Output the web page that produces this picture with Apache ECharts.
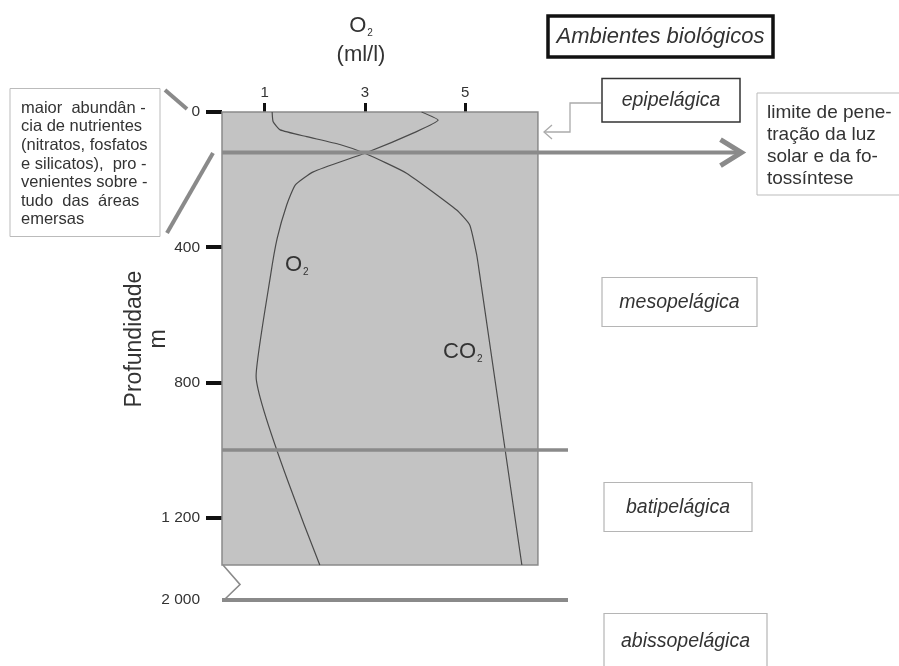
<!DOCTYPE html>
<html><head><meta charset="utf-8">
<script src="https://cdn.jsdelivr.net/npm/echarts@6/dist/echarts.min.js"></script>
<style>html,body{margin:0;padding:0;background:#fff}#c{width:899px;height:666px}</style>
</head><body><div id="c"></div>
<script>
// ---------------- data ----------------
const gasTicks = [1, 3, 5];
const depthTicks = [0, 400, 800, 1200, 2000];
const depthTickLabels = ['0', '400', '800', '1 200', '2 000'];
const depthTickMarks = [0, 400, 800, 1200];

const o2Depth = [0, 24, 58, 122, 177, 216, 275, 374, 482, 781, 1340];
const o2Value = [4.13, 4.46, 4.03, 3.00, 1.97, 1.61, 1.44, 1.25, 1.12, 0.83, 2.10];

const co2Depth = [0, 29, 53, 73, 96, 122, 181, 290, 334, 423, 482, 1340];
const co2Value = [1.15, 1.17, 1.31, 1.84, 2.50, 3.00, 3.83, 4.83, 5.09, 5.23, 5.29, 6.13];

const limiteLuz = 120;       // limite de penetração da luz
const limiteMeso = 1000;     // meso / batipelágica
const limiteBati = 2000;     // bati / abissopelágica
const fimPerfil = 1340;      // fim do perfil medido

// ---------------- layout ----------------
const X_MIN = 0.15, X_BOX_MAX = 6.45, X_LINE_END = 7.05, X_ARROW_END = 10.45, X_GRID_MAX = 10.5;
const FONT = 'Liberation Sans, Arial, sans-serif';

const chart = echarts.init(document.getElementById('c'), null, {renderer: 'canvas'});

const pair = (xs, ys) => xs.map((v, i) => [v, ys[i]]);
const subRich = (size) => ({
  o: {fontSize: size, color: '#333', fontFamily: FONT, lineHeight: 26},
  s: {fontSize: 10, color: '#333', fontFamily: FONT, lineHeight: 10, padding: [14, 0, 0, 1]},
  u: {fontSize: size, color: '#333', fontFamily: FONT, lineHeight: 32}
});

const option = {
  animation: false,
  backgroundColor: '#ffffff',
  textStyle: {fontFamily: FONT},
  grid: {left: 222, right: 158, top: 112, bottom: 66, outerBoundsMode: 'none'},
  xAxis: {
    type: 'value', position: 'top', min: X_MIN, max: X_GRID_MAX,
    axisLine: {show: false},
    splitLine: {show: false},
    axisTick: {show: true, customValues: gasTicks, length: 9, lineStyle: {color: '#111', width: 3}},
    axisLabel: {customValues: gasTicks, fontSize: 15, color: '#333', margin: 12, fontFamily: FONT},
    name: '{o|O}{s|2}\n{u|(ml/l)}',
    nameLocation: 'middle', nameGap: 41,
    nameTextStyle: {padding: [0, 241, 0, 0], rich: subRich(22)}
  },
  yAxis: {
    type: 'value', inverse: true, min: 0, max: 2000,
    breaks: [{start: fimPerfil, end: 1990, gap: 93.5}],
    breakArea: {show: false, expandOnClick: false},
    axisLine: {show: false},
    splitLine: {show: false},
    axisTick: {show: true, customValues: depthTickMarks, length: 16, lineStyle: {color: '#111', width: 4}},
    axisLabel: {
      customValues: depthTicks, fontSize: 15.5, color: '#333', margin: 22, fontFamily: FONT,
      formatter: v => { const i = depthTicks.indexOf(v); return i >= 0 ? depthTickLabels[i] : ''; }
    },
    name: 'Profundidade\nm', nameLocation: 'middle', nameRotate: 90, nameGap: 51, nameMoveOverlap: false,
    nameTextStyle: {fontSize: 23, color: '#333', lineHeight: 24, fontFamily: FONT, padding: [0, 0, 0, 34]}
  },
  series: [
    {
      type: 'line', name: 'box', data: [], z: 1, silent: true,
      markArea: {
        silent: true,
        itemStyle: {color: '#c3c3c3', borderColor: '#8a8a8a', borderWidth: 1.5},
        data: [[{xAxis: X_MIN, yAxis: 0}, {xAxis: X_BOX_MAX, yAxis: fimPerfil}]]
      }
    },
    {
      type: 'line', name: 'O2', data: pair(o2Value, o2Depth), symbol: 'none', smooth: 0.15, z: 3,
      lineStyle: {color: '#4a4a4a', width: 1.2}, silent: true
    },
    {
      type: 'line', name: 'CO2', data: pair(co2Value, co2Depth), symbol: 'none', smooth: 0.15, z: 3,
      lineStyle: {color: '#4a4a4a', width: 1.2}, silent: true
    },
    {
      type: 'line', data: [[X_MIN, limiteLuz], [X_ARROW_END, limiteLuz]], symbol: 'none', z: 4,
      lineStyle: {color: '#8a8a8a', width: 4}, silent: true
    },
    {
      type: 'line', data: [[X_MIN, limiteMeso], [X_LINE_END, limiteMeso]], symbol: 'none', z: 4,
      lineStyle: {color: '#8a8a8a', width: 3.5}, silent: true
    },
    {
      type: 'line', data: [[X_MIN, limiteBati], [X_LINE_END, limiteBati]], symbol: 'none', z: 4,
      lineStyle: {color: '#8a8a8a', width: 4}, silent: true
    }
  ]
};
chart.setOption(option);

// ---------------- annotations ----------------
const px = (x, y) => chart.convertToPixel({gridIndex: 0}, [x, y]);
const arrowEnd = px(X_ARROW_END, limiteLuz);
const zzTop = px(X_MIN, fimPerfil);
const zzBot = px(X_MIN, limiteBati);

function box(x, y, w, h, stroke, lw) {
  return {type: 'rect', shape: {x, y, width: w, height: h}, style: {fill: '#fff', stroke, lineWidth: lw}, silent: true, z: 10};
}
function txt(x, y, text, extra) {
  return Object.assign({type: 'text', x, y, silent: true, z: 11,
    style: Object.assign({text, fill: '#333', font: '19.5px ' + FONT}, extra || {})});
}
const richSub = {
  o: {font: '22px ' + FONT, fill: '#333', lineHeight: 26},
  s: {font: '10px ' + FONT, fill: '#333', lineHeight: 10, padding: [14, 0, 0, 1]}
};
const gEls = [
  // title box
  box(548, 16, 225, 41, '#111', 3.5),
  txt(660.5, 37, 'Ambientes biológicos', {font: 'italic 22px ' + FONT, align: 'center', verticalAlign: 'middle'}),
  // epipelágica
  box(602, 78.5, 138, 43.5, '#333', 1.5),
  txt(671, 101, 'epipelágica', {font: 'italic 19.5px ' + FONT, align: 'center', verticalAlign: 'middle'}),
  {type: 'polyline', shape: {points: [[601, 103], [570, 103], [570, 132], [544, 132]]}, style: {stroke: '#aaa', lineWidth: 1.3, fill: null}, silent: true, z: 10},
  {type: 'polyline', shape: {points: [[552, 125], [544, 132], [552, 139]]}, style: {stroke: '#aaa', lineWidth: 1.3, fill: null}, silent: true, z: 10},
  // light limit box
  box(757, 93, 150, 102, '#bbb', 1),
  txt(767, 102, 'limite de pene-\ntração da luz\nsolar e da fo-\ntossíntese', {font: '19px ' + FONT, lineHeight: 22, verticalAlign: 'top'}),
  // arrow head
  {type: 'polyline', shape: {points: [[arrowEnd[0] - 18, arrowEnd[1] - 13], [arrowEnd[0] + 3, arrowEnd[1]], [arrowEnd[0] - 18, arrowEnd[1] + 13]]},
   style: {stroke: '#8a8a8a', lineWidth: 5, fill: null, lineJoin: 'miter'}, silent: true, z: 10},
  // zones
  box(602, 277.5, 155, 49, '#b5b5b5', 1.2),
  txt(679.5, 302.5, 'mesopelágica', {font: 'italic 19.5px ' + FONT, align: 'center', verticalAlign: 'middle'}),
  box(604, 482.5, 148, 49, '#b5b5b5', 1.2),
  txt(678, 507.5, 'batipelágica', {font: 'italic 19.5px ' + FONT, align: 'center', verticalAlign: 'middle'}),
  box(604, 613.5, 163, 60, '#b5b5b5', 1.2),
  txt(685.5, 642, 'abissopelágica', {font: 'italic 19.5px ' + FONT, align: 'center', verticalAlign: 'middle'}),
  // nutrient note
  box(10, 88.5, 150, 148, '#bbb', 1),
  txt(21, 99, 'maior  abundân -\ncia de nutrientes\n(nitratos, fosfatos\ne silicatos),  pro -\nvenientes sobre -\ntudo  das  áreas\nemersas',
      {font: '16.5px ' + FONT, lineHeight: 18.6, verticalAlign: 'top'}),
  {type: 'line', shape: {x1: 165, y1: 90, x2: 187, y2: 109}, style: {stroke: '#8a8a8a', lineWidth: 4}, silent: true, z: 10},
  {type: 'line', shape: {x1: 213, y1: 153, x2: 167, y2: 233}, style: {stroke: '#8a8a8a', lineWidth: 4}, silent: true, z: 10},
  // break zigzag
  {type: 'polyline', shape: {points: [[zzTop[0] + 1, zzTop[1]], [zzTop[0] + 18, (zzTop[1] + zzBot[1]) / 2 + 2], [zzBot[0] + 2, zzBot[1]]]},
   style: {stroke: '#8a8a8a', lineWidth: 1.6, fill: null}, silent: true, z: 10},
  // curve labels
  {type: 'text', x: 285, y: 252, silent: true, z: 11, style: {text: '{o|O}{s|2}', rich: richSub}},
  {type: 'text', x: 443, y: 339, silent: true, z: 11, style: {text: '{o|CO}{s|2}', rich: richSub}}
];
chart.setOption({graphic: gEls});
</script>
</body></html>
